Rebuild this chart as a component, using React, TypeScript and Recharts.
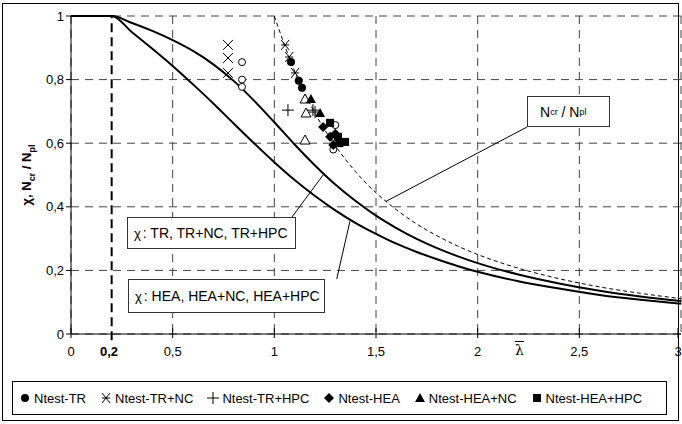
import React from 'react'
import { ComposedChart, Line, Scatter, XAxis, YAxis, CartesianGrid, ReferenceLine } from 'recharts'

// buckling curves (slenderness -> reduction factor)
const LAMBDA = [0, 0.2, 0.3, 0.4, 0.5, 0.6, 0.7, 0.8, 0.9, 1.0, 1.1, 1.2, 1.3, 1.4, 1.5, 1.6, 1.7, 1.8, 1.9, 2.0, 2.2, 2.4, 2.6, 2.8, 3.0]
const CHI_TR = [1, 1, 0.978, 0.953, 0.924, 0.89, 0.848, 0.796, 0.734, 0.666, 0.596, 0.53, 0.47, 0.418, 0.372, 0.333, 0.299, 0.27, 0.245, 0.223, 0.187, 0.159, 0.136, 0.118, 0.104]
const CHI_HEA = [1, 1, 0.949, 0.897, 0.843, 0.785, 0.725, 0.662, 0.6, 0.54, 0.484, 0.434, 0.389, 0.349, 0.315, 0.284, 0.258, 0.235, 0.214, 0.196, 0.166, 0.143, 0.123, 0.108, 0.095]

const LAMBDA_EULER = [1.0, 1.1, 1.2, 1.3, 1.4, 1.5, 1.6, 1.7, 1.8, 1.9, 2.0, 2.2, 2.4, 2.6, 2.8, 3.0]
const NCR_NPL = [1, 0.826, 0.694, 0.592, 0.51, 0.444, 0.391, 0.346, 0.309, 0.277, 0.25, 0.207, 0.174, 0.148, 0.128, 0.111]

// test results
const TR = [{ x: 1.082, y: 0.855 }, { x: 1.12, y: 0.796 }, { x: 1.136, y: 0.774 }]
const TR_NC = [{ x: 1.053, y: 0.909 }, { x: 1.073, y: 0.871 }, { x: 1.102, y: 0.821 }]
const TR_HPC = [{ x: 1.067, y: 0.704 }, { x: 1.19, y: 0.704 }, { x: 1.2, y: 0.698 }]
const HEA = [{ x: 1.24, y: 0.651 }, { x: 1.274, y: 0.62 }, { x: 1.29, y: 0.594 }, { x: 1.3, y: 0.63 }]
const HEA_NC = [{ x: 1.18, y: 0.739 }, { x: 1.225, y: 0.695 }]
const HEA_HPC = [{ x: 1.274, y: 0.664 }, { x: 1.313, y: 0.62 }, { x: 1.348, y: 0.604 }, { x: 1.32, y: 0.6 }]
const OPEN_CIRCLE = [{ x: 0.841, y: 0.855 }, { x: 0.841, y: 0.8 }, { x: 0.841, y: 0.777 }, { x: 1.3, y: 0.657 }, { x: 1.29, y: 0.58 }, { x: 1.3, y: 0.61 }]
const OPEN_TRIANGLE = [{ x: 1.151, y: 0.739 }, { x: 1.156, y: 0.695 }, { x: 1.151, y: 0.61 }]
const PLAIN_X = [{ x: 0.772, y: 0.909 }, { x: 0.772, y: 0.868 }, { x: 0.772, y: 0.821 }]

const X_TICKS = [0, 0.5, 1, 1.5, 2, 2.5, 3]
const Y_TICKS = [0, 0.2, 0.4, 0.6, 0.8, 1]

const LEGEND = [
  { name: 'Ntest-TR', mark: 'dot' },
  { name: 'Ntest-TR+NC', mark: 'star' },
  { name: 'Ntest-TR+HPC', mark: 'plus' },
  { name: 'Ntest-HEA', mark: 'diamond' },
  { name: 'Ntest-HEA+NC', mark: 'triangle' },
  { name: 'Ntest-HEA+HPC', mark: 'square' },
]

const curveTR = LAMBDA.map((x, i) => ({ x, y: CHI_TR[i] }))
const curveHEA = LAMBDA.map((x, i) => ({ x, y: CHI_HEA[i] }))
const curveEuler = LAMBDA_EULER.map((x, i) => ({ x, y: NCR_NPL[i] }))

const FONT = '"Liberation Sans", Arial, sans-serif'
const comma = (v: number) => String(v).replace('.', ',')

function Marker({ mark, cx, cy }: { mark: string; cx: number; cy: number }) {
  switch (mark) {
    case 'dot':
      return <circle cx={cx} cy={cy} r={4} fill="#000" />
    case 'star':
      return (
        <g stroke="#000" strokeWidth={1}>
          <line x1={cx - 4} y1={cy - 5} x2={cx + 4} y2={cy + 5} />
          <line x1={cx - 4} y1={cy + 5} x2={cx + 4} y2={cy - 5} />
          <line x1={cx - 4} y1={cy} x2={cx + 4} y2={cy} />
        </g>
      )
    case 'plus':
      return (
        <g stroke="#000" strokeWidth={1}>
          <line x1={cx - 6} y1={cy} x2={cx + 6} y2={cy} />
          <line x1={cx} y1={cy - 6} x2={cx} y2={cy + 6} />
        </g>
      )
    case 'diamond':
      return <polygon points={`${cx},${cy - 5} ${cx + 5},${cy} ${cx},${cy + 5} ${cx - 5},${cy}`} fill="#000" />
    case 'triangle':
      return <polygon points={`${cx},${cy - 5} ${cx + 5},${cy + 4} ${cx - 5},${cy + 4}`} fill="#000" />
    case 'square':
      return <rect x={cx - 4} y={cy - 4} width={8} height={8} fill="#000" />
    case 'ocircle':
      return <circle cx={cx} cy={cy} r={3.5} fill="#fff" stroke="#000" />
    case 'otriangle':
      return <polygon points={`${cx},${cy - 5} ${cx + 5},${cy + 4} ${cx - 5},${cy + 4}`} fill="#fff" stroke="#000" />
    case 'x':
      return (
        <g stroke="#000" strokeWidth={1}>
          <line x1={cx - 5} y1={cy - 5} x2={cx + 5} y2={cy + 5} />
          <line x1={cx - 5} y1={cy + 5} x2={cx + 5} y2={cy - 5} />
        </g>
      )
  }
  return null
}

const shape = (mark: string) => (p: any) => <Marker mark={mark} cx={p.cx} cy={p.cy} />

function XTick(props: any) {
  const { x, y, payload } = props
  return (
    <g>
      <line x1={x} y1={y - 6} x2={x} y2={y + 4} stroke="#000" />
      <text x={x} y={y + 22} textAnchor="middle" fontSize={13} fontFamily={FONT} fill="#000">
        {comma(payload.value)}
      </text>
    </g>
  )
}

const boxStyle: React.CSSProperties = {
  position: 'absolute',
  background: '#fff',
  border: '1px solid #333',
  fontFamily: FONT,
  fontSize: 14,
  color: '#000',
  boxSizing: 'border-box',
  display: 'flex',
  alignItems: 'center',
  paddingLeft: 6,
  whiteSpace: 'nowrap',
}

export default function App() {
  return (
    <div style={{ position: 'absolute', left: 0, top: 0, width: 682, height: 424, background: '#fff', fontFamily: FONT }}>
      <div style={{ position: 'absolute', left: 2, top: 3, width: 677, height: 418, border: '1px solid #000', boxSizing: 'border-box' }} />
      <ComposedChart width={682} height={424} margin={{ top: 16, right: 1, left: 0, bottom: 60 }}>
        <CartesianGrid stroke="#444" strokeDasharray="8 6" />
        <XAxis
          type="number"
          dataKey="x"
          domain={[0, 3]}
          ticks={X_TICKS}
          height={30}
          tickSize={0}
          tickMargin={0}
          tick={<XTick />}
          axisLine={{ stroke: '#000' }}
          allowDataOverflow
        />
        <YAxis
          type="number"
          dataKey="y"
          domain={[0, 1]}
          ticks={Y_TICKS}
          width={71}
          tickSize={5}
          tickFormatter={comma}
          tick={{ fontSize: 13, fill: '#000', fontFamily: FONT }}
          axisLine={{ stroke: '#000' }}
          tickLine={{ stroke: '#000' }}
        />
        <ReferenceLine
          segment={[{ x: 0.2, y: -0.02 }, { x: 0.2, y: 1 }]}
          stroke="#000"
          strokeWidth={2}
          strokeDasharray="9 5"
          ifOverflow="visible"
        />
        <ReferenceLine segment={[{ x: 1.087, y: 0.368 }, { x: 1.24, y: 0.5 }]} stroke="#000" />
        <ReferenceLine segment={[{ x: 1.307, y: 0.173 }, { x: 1.372, y: 0.355 }]} stroke="#000" />
        <ReferenceLine segment={[{ x: 2.243, y: 0.651 }, { x: 1.549, y: 0.417 }]} stroke="#000" />
        <Line data={curveEuler} dataKey="y" type="monotone" stroke="#000" strokeWidth={1} strokeDasharray="4 3" dot={false} isAnimationActive={false} />
        <Line data={curveTR} dataKey="y" type="monotone" stroke="#000" strokeWidth={2} dot={false} isAnimationActive={false} />
        <Line data={curveHEA} dataKey="y" type="monotone" stroke="#000" strokeWidth={2} dot={false} isAnimationActive={false} />
        <Scatter data={PLAIN_X} shape={shape('x')} isAnimationActive={false} />
        <Scatter data={OPEN_CIRCLE} shape={shape('ocircle')} isAnimationActive={false} />
        <Scatter data={OPEN_TRIANGLE} shape={shape('otriangle')} isAnimationActive={false} />
        <Scatter data={TR} shape={shape('dot')} isAnimationActive={false} />
        <Scatter data={TR_NC} shape={shape('star')} isAnimationActive={false} />
        <Scatter data={TR_HPC} shape={shape('plus')} isAnimationActive={false} />
        <Scatter data={HEA_NC} shape={shape('triangle')} isAnimationActive={false} />
        <Scatter data={HEA} shape={shape('diamond')} isAnimationActive={false} />
        <Scatter data={HEA_HPC} shape={shape('square')} isAnimationActive={false} />
      </ComposedChart>

      {/* y axis title */}
      <div
        style={{
          position: 'absolute',
          left: 28,
          top: 175,
          transform: 'translate(-50%, -50%) rotate(-90deg)',
          fontWeight: 'bold',
          fontSize: 13,
          whiteSpace: 'nowrap',
        }}
      >
        χ, N<sub style={{ fontSize: 9 }}>cr</sub> / N<sub style={{ fontSize: 9 }}>pl</sub>
      </div>

      {/* extra axis texts */}
      <div style={{ position: 'absolute', left: 100, top: 344, fontSize: 13, fontWeight: 'bold' }}>0,2</div>
      <div style={{ position: 'absolute', left: 515, top: 342, fontSize: 14, fontFamily: '"DejaVu Serif", serif' }}>
        <span style={{ textDecoration: 'overline' }}>λ</span>
      </div>

      {/* annotation boxes */}
      <div style={{ ...boxStyle, left: 127, top: 217, width: 169, height: 32 }}>
        <span style={{ fontSize: 13, marginRight: 2 }}>χ</span>: TR, TR+NC, TR+HPC
      </div>
      <div style={{ ...boxStyle, left: 128, top: 279, width: 197, height: 34 }}>
        <span style={{ fontSize: 13, marginRight: 2 }}>χ</span>: HEA, HEA+NC, HEA+HPC
      </div>
      <div style={{ ...boxStyle, left: 527, top: 96, width: 83, height: 31, paddingLeft: 12 }}>
        N<sub style={{ fontSize: 9 }}>cr</sub>&nbsp;/ N<sub style={{ fontSize: 9 }}>pl</sub>
      </div>

      {/* legend */}
      <div
        style={{
          position: 'absolute',
          left: 12,
          top: 381,
          width: 655,
          height: 34,
          border: '1px solid #000',
          boxSizing: 'border-box',
          display: 'flex',
          alignItems: 'center',
          paddingLeft: 6,
          gap: 14,
          fontSize: 13,
        }}
      >
        {LEGEND.map((item) => (
          <div key={item.name} style={{ display: 'flex', alignItems: 'center', gap: 3 }}>
            <svg width={12} height={12}>
              <Marker mark={item.mark} cx={6} cy={6} />
            </svg>
            <span>{item.name}</span>
          </div>
        ))}
      </div>
    </div>
  )
}
